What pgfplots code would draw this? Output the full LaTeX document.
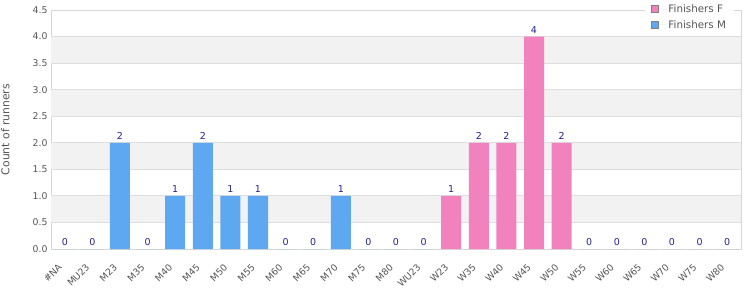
\documentclass[border=0pt]{standalone}
\usepackage{pgfplots}
\pgfplotsset{compat=1.18}
\usepackage{fontspec}
\setmainfont{DejaVu Sans}
\definecolor{mblue}{RGB}{94,168,242}
\definecolor{fpink}{RGB}{242,130,189}
\definecolor{lblnavy}{RGB}{35,35,140}
\definecolor{framegray}{RGB}{215,215,215}
\definecolor{band}{RGB}{242,242,242}
\definecolor{gridc}{RGB}{222,222,222}
\definecolor{tickc}{RGB}{85,85,85}
\begin{document}
\begin{tikzpicture}[font=\fontsize{9.3}{11}\selectfont]
\useasboundingbox (-51pt,-51pt) rectangle (699pt,249pt);
\begin{axis}[
  scale only axis, width=690pt, height=239pt,
  at={(0pt,0pt)}, anchor=south west,
  xmin=-0.5, xmax=24.5, ymin=0, ymax=4.5,
  /pgf/number format/assume math mode=true,
  axis line style={framegray},
  major tick length=0pt,
  xtick={0,...,24},
  xticklabels={\#NA,MU23,M23,M35,M40,M45,M50,M55,M60,M65,M70,M75,M80,WU23,W23,W35,W40,W45,W50,W55,W60,W65,W70,W75,W80},
  x tick label style={rotate=45, anchor=north east, inner sep=1pt, text=tickc, xshift=-13.9pt, yshift=-3.8pt},
  ytick={0,0.5,...,4.5},
  y tick label style={text=tickc, /pgf/number format/.cd, fixed, fixed zerofill, precision=1, assume math mode=true},
  ylabel={Count of runners}, ylabel style={text=tickc, anchor=center, font=\fontsize{10.8}{12}\selectfont, at={(axis description cs:-0.066,0.5)}},
  ybar, bar width=20pt, bar shift=0pt,
  nodes near coords={\pgfmathprintnumber[assume math mode=true]{\pgfplotspointmeta}},
  every node near coord/.append style={text=lblnavy, font=\fontsize{9.5}{11}\selectfont},
  legend style={at={(axis description cs:0.99,1.045)}, anchor=north east, fill=white, draw=none, font=\fontsize{10.3}{12}\selectfont, text=tickc, row sep=2.5pt, inner xsep=6pt, inner ysep=3pt},
  legend cell align=left,
  legend image code/.code={\draw[#1, draw=gray] (0pt,-3.5pt) rectangle (7pt,3.5pt); \path (0pt,0pt) -- (15pt,0pt);},
]
\fill[band] (axis cs:-0.5,0.5) rectangle (axis cs:24.5,1.0);
\fill[band] (axis cs:-0.5,1.5) rectangle (axis cs:24.5,2.0);
\fill[band] (axis cs:-0.5,2.5) rectangle (axis cs:24.5,3.0);
\fill[band] (axis cs:-0.5,3.5) rectangle (axis cs:24.5,4.0);
\draw[gridc, line width=0.8pt] (axis cs:-0.5,0.5) -- (axis cs:24.5,0.5);
\draw[gridc, line width=0.8pt] (axis cs:-0.5,1.0) -- (axis cs:24.5,1.0);
\draw[gridc, line width=0.8pt] (axis cs:-0.5,1.5) -- (axis cs:24.5,1.5);
\draw[gridc, line width=0.8pt] (axis cs:-0.5,2.0) -- (axis cs:24.5,2.0);
\draw[gridc, line width=0.8pt] (axis cs:-0.5,2.5) -- (axis cs:24.5,2.5);
\draw[gridc, line width=0.8pt] (axis cs:-0.5,3.0) -- (axis cs:24.5,3.0);
\draw[gridc, line width=0.8pt] (axis cs:-0.5,3.5) -- (axis cs:24.5,3.5);
\draw[gridc, line width=0.8pt] (axis cs:-0.5,4.0) -- (axis cs:24.5,4.0);
\addplot[fill=fpink, draw=none] coordinates {(14,1) (15,2) (16,2) (17,4) (18,2) (19,0) (20,0) (21,0) (22,0) (23,0) (24,0)};
\addlegendentry{Finishers F}
\addplot[fill=mblue, draw=none] coordinates {(0,0) (1,0) (2,2) (3,0) (4,1) (5,2) (6,1) (7,1) (8,0) (9,0) (10,1) (11,0) (12,0) (13,0)};
\addlegendentry{Finishers M}
\end{axis}
\end{tikzpicture}
\end{document}
